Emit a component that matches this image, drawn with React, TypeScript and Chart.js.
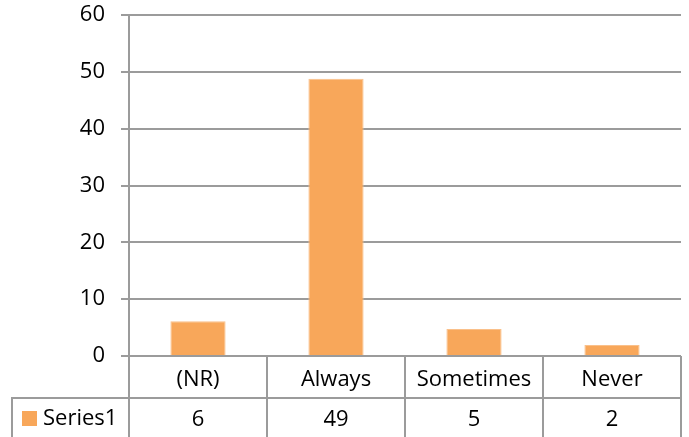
import React, { useEffect, useRef } from "react";
import { Chart, registerables } from "chart.js";

Chart.register(...registerables);

const categories = ["(NR)", "Always", "Sometimes", "Never"];
const seriesName = "Series1";
const seriesValues = [6.1, 48.8, 4.75, 1.95];
const tableValues = ["6", "49", "5", "2"];
const yTicks = [0, 10, 20, 30, 40, 50, 60];

const FONT = "'Open Sans', sans-serif";
const GRID = "#9b9b9b";
const BAR = "#F8A75A";

const tablePlugin = {
  id: "dataTable",
  afterDraw(chart: any) {
    const ctx = chart.ctx;
    const area = chart.chartArea;
    const x = chart.scales.x;
    const n = categories.length;
    const colW = (area.right - area.left) / n;
    const rowH1 = 42;
    const rowTop2 = area.bottom + rowH1;
    const H = chart.height;
    ctx.save();
    ctx.strokeStyle = GRID;
    ctx.lineWidth = 2;
    for (let i = 0; i <= n; i++) {
      const px = Math.round(area.left + i * colW);
      ctx.beginPath();
      ctx.moveTo(px, area.bottom);
      ctx.lineTo(px, H + 2);
      ctx.stroke();
    }
    ctx.beginPath();
    ctx.moveTo(12, rowTop2);
    ctx.lineTo(area.right + 1, rowTop2);
    ctx.stroke();
    ctx.beginPath();
    ctx.moveTo(12, rowTop2 - 1);
    ctx.lineTo(12, H + 2);
    ctx.stroke();
    ctx.fillStyle = "#000";
    ctx.font = `22px ${FONT}`;
    ctx.textAlign = "center";
    ctx.textBaseline = "middle";
    categories.forEach((c, i) => {
      const cx = x.getPixelForValue(i);
      ctx.fillText(c, cx, area.bottom + 24);
      ctx.fillText(tableValues[i], cx, rowTop2 + 22);
    });
    ctx.fillStyle = BAR;
    ctx.fillRect(22, 411, 15, 15);
    ctx.fillStyle = "#000";
    ctx.textAlign = "left";
    ctx.fillText(seriesName, 43, rowTop2 + 21);
    ctx.restore();
  },
};

export default function App() {
  const ref = useRef<HTMLCanvasElement>(null);
  useEffect(() => {
    const chart = new Chart(ref.current!, {
      type: "bar",
      data: {
        labels: categories,
        datasets: [
          {
            label: seriesName,
            data: seriesValues,
            backgroundColor: BAR,
            borderColor: "#FAC08A",
            borderWidth: 1,
            categoryPercentage: 0.8,
            barPercentage: 0.5,
          },
        ],
      },
      options: {
        responsive: false,
        animation: false,
        layout: { padding: { left: 0, top: 15, right: 8, bottom: 81 } },
        plugins: { legend: { display: false }, tooltip: { enabled: false } },
        scales: {
          x: { display: false },
          y: {
            min: 0,
            max: 60,
            afterFit: (s: any) => {
              s.width = 129;
              s.paddingTop = 0;
              s.paddingBottom = 0;
            },
            afterBuildTicks: (s: any) => {
              s.ticks = yTicks.map((v) => ({ value: v }));
            },
            ticks: {
              color: "#000",
              font: { family: FONT, size: 22 },
              padding: 16,
            },
            grid: {
              color: GRID,
              lineWidth: 2,
              tickLength: 8,
              drawTicks: true,
            },
            border: { color: GRID, width: 2 },
          },
        },
      },
      plugins: [tablePlugin],
    });
    return () => chart.destroy();
  }, []);
  return (
    <div style={{ position: "fixed", left: 0, top: 0, width: 689, height: 437, background: "#fff" }}>
      <canvas ref={ref} width={689} height={437} />
    </div>
  );
}
